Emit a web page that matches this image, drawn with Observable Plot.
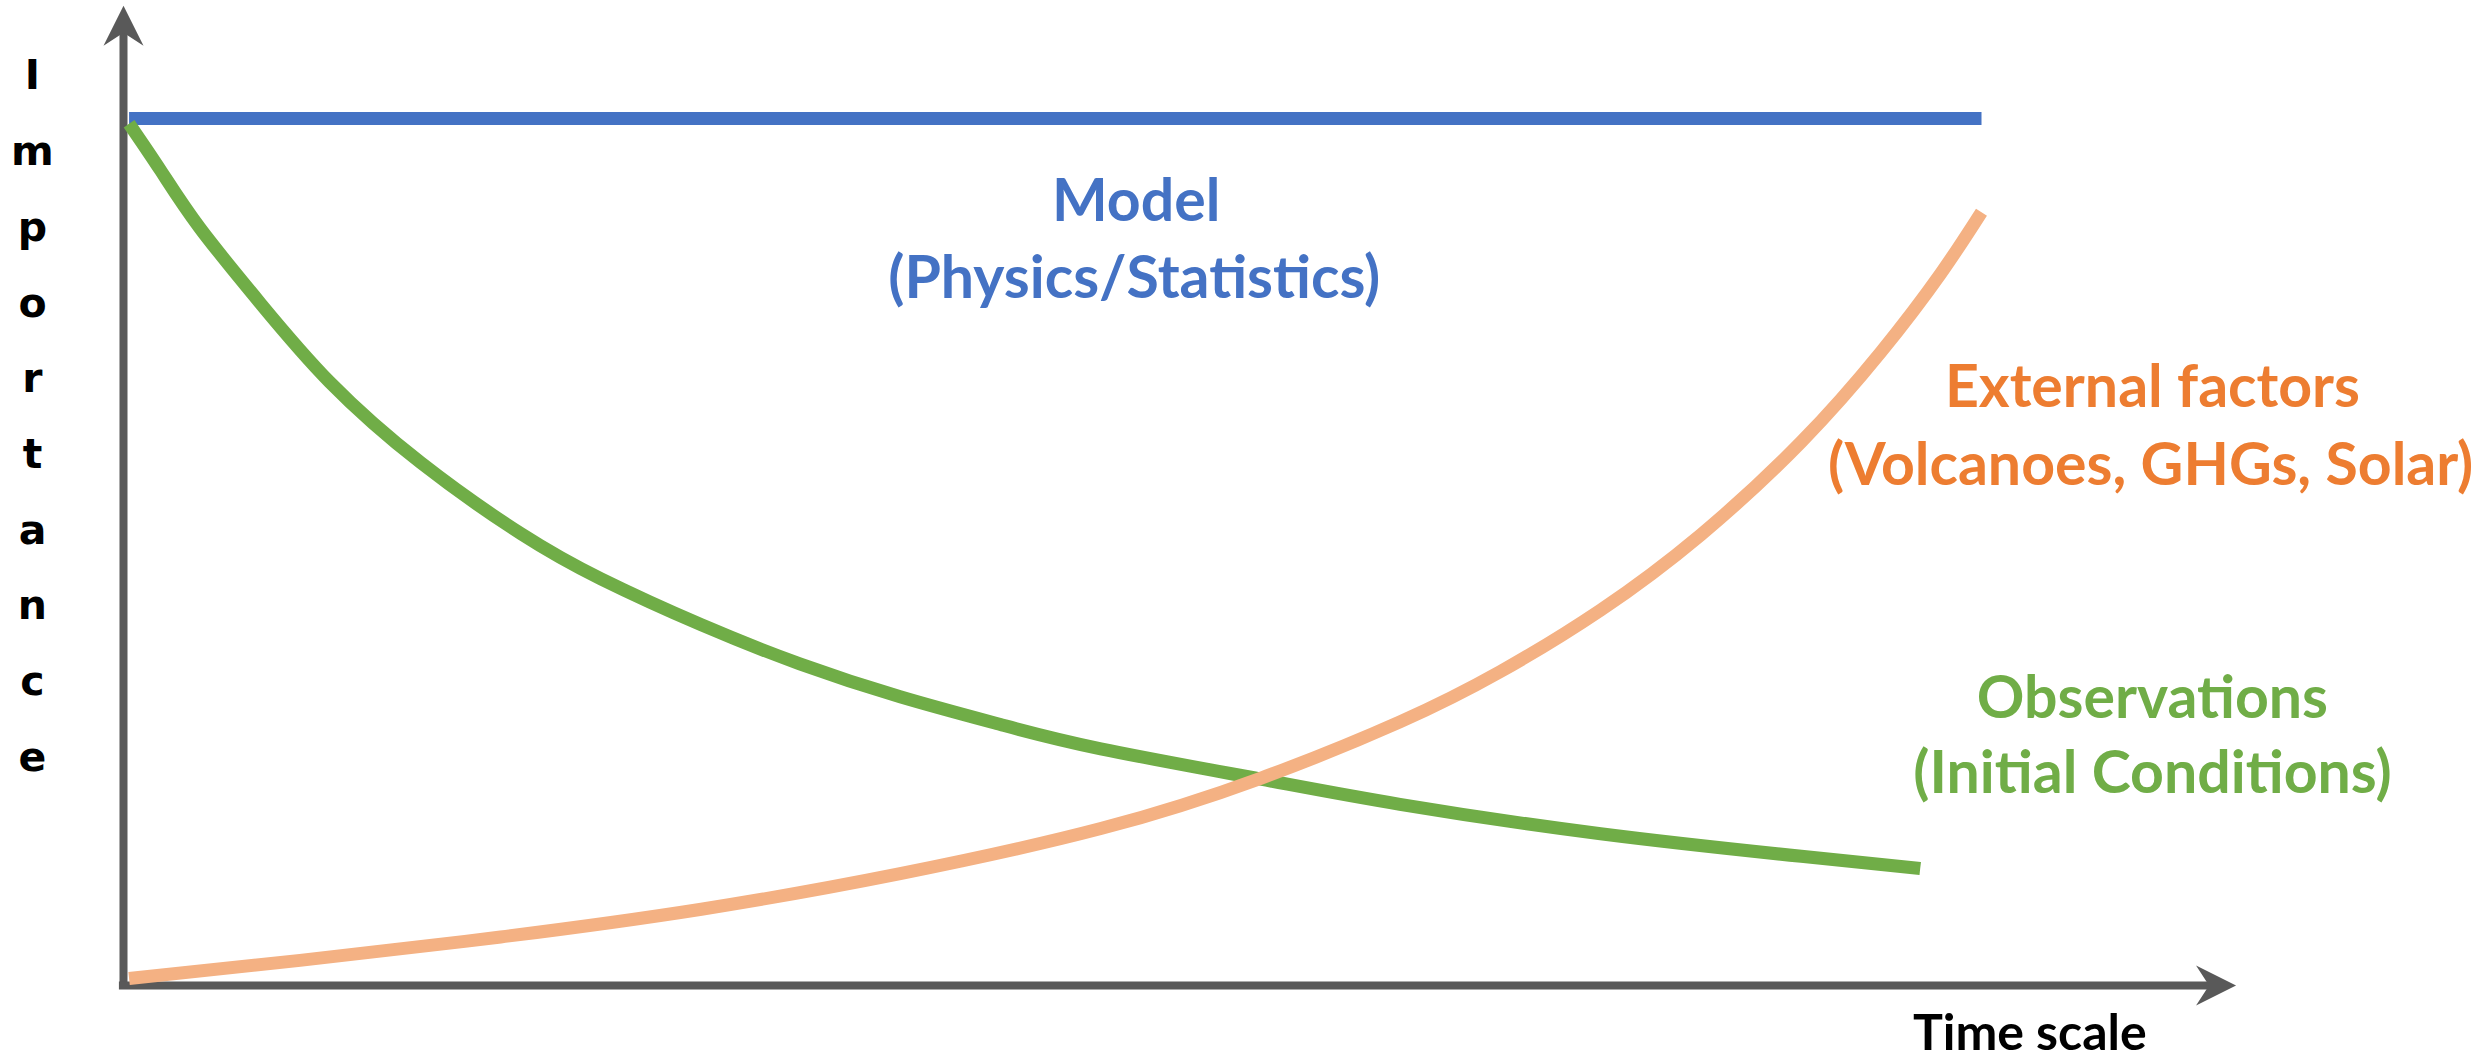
<!DOCTYPE html>
<html>
<head>
<meta charset="utf-8">
<script src="https://cdn.jsdelivr.net/npm/d3@7"></script>
<script src="https://cdn.jsdelivr.net/npm/@observablehq/plot@0.6"></script>
<style>
  html, body { margin: 0; padding: 0; background: #ffffff; overflow: hidden; }
  #chart { width: 2488px; height: 1061px; }
</style>
</head>
<body>
<div id="chart"></div>
<script>
// ---- Data (time scale 0..100, importance 0..100) ----
const modelTime = [0.3, 100];
const modelImportance = [100, 100];

const obsTime = [0.3, 2.0, 4.1, 7.4, 11.1, 16.0, 21.4, 25.7, 31.1, 36.4, 41.8, 47.2, 52.6, 61.2, 68.7, 79.5, 90.3, 96.7];
const obsImportance = [99.4, 94.0, 87.4, 78.6, 69.6, 60.3, 52.1, 46.9, 41.6, 37.1, 33.3, 30.1, 27.3, 23.8, 20.9, 17.5, 14.9, 13.5];

const extTime = [0.3, 9.5, 20.3, 31.1, 41.8, 52.6, 61.2, 68.7, 74.1, 79.5, 84.9, 90.3, 94.6, 97.8, 100];
const extImportance = [0.8, 2.9, 5.6, 8.8, 12.9, 18.1, 23.9, 30.4, 36.2, 43.3, 52.0, 62.7, 73.1, 82.1, 89.2];

const seriesLabels = ["Model", "(Physics/Statistics)", "External factors", "(Volcanoes, GHGs, Solar)", "Observations", "(Initial Conditions)"];
const xAxisLabel = "Time scale";
const yAxisLabel = "Importance";

// axis extents (data units)
const xAxisExtent = [-0.22, 112.3];
const yAxisExtent = [-0.35, 110.0];
const xArrowTip = 113.7;
const yArrowTip = 113.0;

// ---- Tables ----
const model = modelTime.map((t, i) => ({t, v: modelImportance[i]}));
const obs = obsTime.map((t, i) => ({t, v: obsImportance[i]}));
const ext = extTime.map((t, i) => ({t, v: extImportance[i]}));
const heads = [{x: 0, y: yArrowTip, rot: 0}, {x: xArrowTip, y: 0, rot: 90}];

const arrowhead = {
  draw(context) {
    context.moveTo(0, 0);
    context.lineTo(20, 40);
    context.lineTo(0, 27);
    context.lineTo(-20, 40);
    context.closePath();
  }
};

const grey = "#595959";
const blue = "#4472C4";
const green = "#70AD47";
const orangeLine = "#F4B183";
const orangeText = "#ED7D31";
const labelFont = "Lato, 'Open Sans', sans-serif";
const labelSize = 59;
const letterSize = 41;
const letterLineHeight = 75.7 / letterSize;

const chart = Plot.plot({
  width: 2488,
  height: 1061,
  marginLeft: 123,
  marginRight: 507,
  marginTop: 118,
  marginBottom: 76,
  x: {domain: [0, 100], axis: null},
  y: {domain: [0, 100], axis: null},
  style: {background: "#ffffff", overflow: "visible"},
  marks: [
    // axes
    Plot.ruleX([0], {y1: yAxisExtent[0], y2: yAxisExtent[1], stroke: grey, strokeWidth: 8, strokeLinecap: "butt"}),
    Plot.ruleY([0], {x1: xAxisExtent[0], x2: xAxisExtent[1], stroke: grey, strokeWidth: 8, strokeLinecap: "butt"}),
    Plot.dot(heads, {x: "x", y: "y", rotate: "rot", symbol: arrowhead, fill: grey, stroke: "none"}),
    // series
    Plot.line(model, {x: "t", y: "v", stroke: blue, strokeWidth: 13, strokeLinecap: "butt"}),
    Plot.line(obs, {x: "t", y: "v", stroke: green, strokeWidth: 13, strokeLinecap: "butt", curve: "natural"}),
    Plot.line(ext, {x: "t", y: "v", stroke: orangeLine, strokeWidth: 13, strokeLinecap: "butt", curve: "natural"}),
    // labels
    Plot.text([seriesLabels[0]], {x: 54.5, y: 88.2, text: d => d, fill: blue, fontSize: labelSize, fontWeight: "bold", fontFamily: labelFont, lineAnchor: "bottom", textAnchor: "middle"}),
    Plot.text([seriesLabels[1]], {x: 54.4, y: 79.35, text: d => d, fill: blue, fontSize: labelSize, fontWeight: "bold", fontFamily: labelFont, lineAnchor: "bottom", textAnchor: "middle"}),
    Plot.text([seriesLabels[2]], {x: 109.2, y: 66.7, text: d => d, fill: orangeText, fontSize: labelSize, fontWeight: "bold", fontFamily: labelFont, lineAnchor: "bottom", textAnchor: "middle"}),
    Plot.text([seriesLabels[3]], {x: 109.1, y: 57.7, text: d => d, fill: orangeText, fontSize: labelSize, fontWeight: "bold", fontFamily: labelFont, lineAnchor: "bottom", textAnchor: "middle"}),
    Plot.text([seriesLabels[4]], {x: 109.2, y: 30.9, text: d => d, fill: green, fontSize: labelSize, fontWeight: "bold", fontFamily: labelFont, lineAnchor: "bottom", textAnchor: "middle"}),
    Plot.text([seriesLabels[5]], {x: 109.2, y: 22.15, text: d => d, fill: green, fontSize: labelSize, fontWeight: "bold", fontFamily: labelFont, lineAnchor: "bottom", textAnchor: "middle"}),
    Plot.text([xAxisLabel], {x: 102.6, y: -7.4, text: d => d, fill: "#000000", fontSize: 50, fontWeight: "bold", fontFamily: labelFont, lineAnchor: "bottom", textAnchor: "middle"}),
    // first baseline at ~89px: top anchor offset is 0.71 * lineHeight em
    Plot.text([yAxisLabel.split("").join("\n")], {x: -4.9, y: (985 - (89 - 0.71 * letterLineHeight * letterSize)) / 8.67, text: d => d, fill: "#000000", fontSize: letterSize, fontWeight: "bold", fontFamily: "'DejaVu Sans', sans-serif", lineAnchor: "top", lineHeight: letterLineHeight, textAnchor: "middle"})
  ]
});

document.getElementById("chart").appendChild(chart);
</script>
</body>
</html>
